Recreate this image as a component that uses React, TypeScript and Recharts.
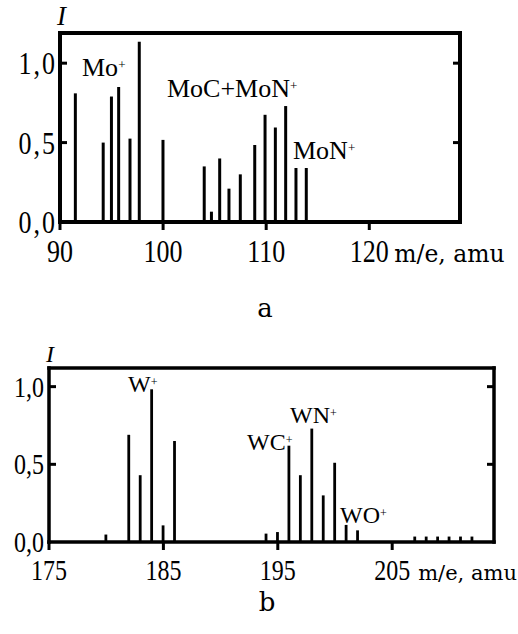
import { BarChart, Bar, XAxis, YAxis } from "recharts";

// Mo spectrum (a)
const MASS_A = [91.5, 94.2, 95, 95.7, 96.8, 97.7, 100, 104, 104.7, 105.5, 106.4, 107.5, 108.9, 109.9, 110.9, 111.9, 112.9, 113.9];
const INTENSITY_A = [0.81, 0.5, 0.79, 0.85, 0.525, 1.135, 0.517, 0.35, 0.065, 0.4, 0.21, 0.3, 0.485, 0.675, 0.595, 0.73, 0.34, 0.34];
const X_TICKS_A = [90, 100, 110, 120];
const Y_TICKS_A = [0, 0.5, 1.0];

// W spectrum (b)
const MASS_B = [180, 182, 183, 184, 185, 186, 194, 195, 196, 197, 198, 199, 200, 201, 202, 207, 208, 209, 210, 211, 212];
const INTENSITY_B = [0.048, 0.69, 0.43, 0.983, 0.107, 0.65, 0.054, 0.064, 0.62, 0.43, 0.73, 0.3, 0.51, 0.11, 0.075, 0.035, 0.035, 0.035, 0.035, 0.035, 0.035];
const X_TICKS_B = [175, 185, 195, 205];
const Y_TICKS_B = [0, 0.5, 1.0];

const UNIT = "m/e, amu";

const SERIF = "'Liberation Serif', 'Times New Roman', serif";
const WIDE = "'DejaVu Serif', serif";

const fmtI = (v: number) => v.toFixed(1).replace(".", ",");

function Stretched({ x, y, anchor, fs, ls = 0, family = SERIF, children }: any) {
  return (
    <text
      transform={`translate(${x},${y}) scale(1,1.2)`}
      textAnchor={anchor}
      fontFamily={family}
      fontSize={fs}
      letterSpacing={ls}
      fill="#000"
    >
      {children}
    </text>
  );
}

type PanelProps = {
  mass: number[];
  intensity: number[];
  xTicks: number[];
  yTicks: number[];
  xMin: number;
  xMax: number;
  yMax: number;
  height: number;
  margin: { top: number; right: number; bottom: number; left: number };
  leftWidth: number;
  fs: number;
  ls: number;
  yLabelGap: number;
  unitFs: number;
  unitGap: number;
  labelDrop: number;
  frame: number;
  barSize: number;
};

function Panel(p: PanelProps) {
  const data = p.mass.map((m, i) => ({ m, v: p.intensity[i] }));
  const line = { stroke: "#000", strokeWidth: p.frame, strokeLinecap: "square" as const };
  const lastX = p.xTicks[p.xTicks.length - 1];

  const bottomTick = (t: any) => (
    <g>
      <Stretched x={t.x} y={t.y + p.labelDrop} anchor="middle" fs={p.fs}>
        {t.payload.value}
      </Stretched>
      {t.payload.value === lastX && (
        <text x={t.x + p.unitGap} y={t.y + p.labelDrop} fontFamily={WIDE} fontSize={p.unitFs} fill="#000">
          {UNIT}
        </text>
      )}
    </g>
  );
  const leftTick = (t: any) => (
    <g>
      {t.payload.value !== 0 && <line x1={t.x} y1={t.y} x2={t.x + 7} y2={t.y} stroke="#000" strokeWidth={3} />}
      <Stretched x={t.x - p.yLabelGap} y={t.y + p.fs * 0.42} anchor="end" fs={p.fs} ls={p.ls}>
        {fmtI(t.payload.value)}
      </Stretched>
    </g>
  );
  const topTick = (t: any) =>
    t.payload.value === p.xMin ? <g /> : <line x1={t.x} y1={t.y} x2={t.x} y2={t.y + 7} stroke="#000" strokeWidth={3} />;
  const rightTick = (t: any) =>
    t.payload.value === 0 ? <g /> : <line x1={t.x} y1={t.y} x2={t.x - 7} y2={t.y} stroke="#000" strokeWidth={3} />;

  return (
    <BarChart width={518} height={p.height} data={data} margin={p.margin}>
      <XAxis
        dataKey="m"
        type="number"
        domain={[p.xMin, p.xMax]}
        ticks={p.xTicks}
        allowDataOverflow
        interval={0}
        height={40}
        axisLine={line}
        tickLine={{ stroke: "#000", strokeWidth: 3 }}
        tickSize={8}
        tickMargin={0}
        tick={bottomTick}
      />
      <XAxis
        xAxisId="top"
        orientation="top"
        type="number"
        domain={[p.xMin, p.xMax]}
        ticks={p.xTicks}
        allowDataOverflow
        interval={0}
        height={5}
        axisLine={line}
        tickLine={false}
        tickSize={0}
        tickMargin={0}
        tick={topTick}
      />
      <YAxis
        type="number"
        domain={[0, p.yMax]}
        ticks={p.yTicks}
        allowDataOverflow
        interval={0}
        width={p.leftWidth}
        axisLine={line}
        tickLine={false}
        tickSize={0}
        tickMargin={0}
        tick={leftTick}
      />
      <YAxis
        yAxisId="right"
        orientation="right"
        type="number"
        domain={[0, p.yMax]}
        ticks={p.yTicks}
        allowDataOverflow
        interval={0}
        width={10}
        axisLine={line}
        tickLine={false}
        tickSize={0}
        tickMargin={0}
        tick={rightTick}
      />
      <Bar dataKey="v" fill="#000" barSize={p.barSize} isAnimationActive={false} />
    </BarChart>
  );
}

function Ion({ x, y, fs, name }: { x: number; y: number; fs: number; name: string }) {
  return (
    <text x={x} y={y} fontFamily={SERIF} fontSize={fs} fill="#000">
      {name}
      <tspan fontSize={fs * 0.5} dy={-fs * 0.27}>+</tspan>
    </text>
  );
}

export default function App() {
  return (
    <div style={{ position: "absolute", left: 0, top: 0, width: 518, height: 634, background: "#fff" }}>
      <div style={{ position: "absolute", left: 0, top: 0 }}>
        <Panel
          mass={MASS_A}
          intensity={INTENSITY_A}
          xTicks={X_TICKS_A}
          yTicks={Y_TICKS_A}
          xMin={90}
          xMax={128.8}
          yMax={1.19}
          height={270}
          margin={{ top: 28, right: 48, bottom: 8, left: 0 }}
          leftWidth={60}
          fs={26}
          ls={2}
          yLabelGap={3}
          unitFs={23.5}
          unitGap={25}
          labelDrop={32}
          frame={4}
          barSize={3}
        />
      </div>
      <div style={{ position: "absolute", left: 0, top: 320 }}>
        <Panel
          mass={MASS_B}
          intensity={INTENSITY_B}
          xTicks={X_TICKS_B}
          yTicks={Y_TICKS_B}
          xMin={175}
          xMax={213.9}
          yMax={1.12}
          height={300}
          margin={{ top: 43, right: 14, bottom: 38, left: 0 }}
          leftWidth={49}
          fs={24}
          ls={0}
          yLabelGap={5}
          unitFs={21}
          unitGap={26}
          labelDrop={30}
          frame={3.5}
          barSize={2.8}
        />
      </div>
      <svg width={518} height={634} style={{ position: "absolute", left: 0, top: 0, pointerEvents: "none" }}>
        <text x={57} y={25} fontFamily={SERIF} fontStyle="italic" fontSize={27} fill="#000">I</text>
        <Ion x={82} y={76} fs={26} name="Mo" />
        <Ion x={167} y={97} fs={26} name="MoC+MoN" />
        <Ion x={293} y={159} fs={26} name="MoN" />
        <text x={265} y={317} textAnchor="middle" fontFamily={WIDE} fontSize={26} fill="#000">a</text>

        <text x={46} y={362} fontFamily={SERIF} fontStyle="italic" fontSize={24} fill="#000">I</text>
        <Ion x={128} y={392} fs={24} name="W" />
        <Ion x={247} y={450} fs={24} name="WC" />
        <Ion x={290} y={423} fs={24} name="WN" />
        <Ion x={340} y={523} fs={24} name="WO" />
        <text x={267} y={611} textAnchor="middle" fontFamily={WIDE} fontSize={26} fill="#000">b</text>
      </svg>
    </div>
  );
}
